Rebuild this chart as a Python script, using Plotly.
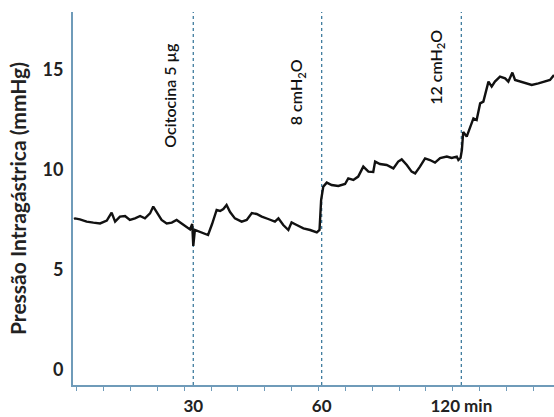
import plotly.graph_objects as go

# Recording time (arbitrary time units along the trace) and intragastric pressure (mmHg)
tempo = [
    -1.0, -0.6, 1.2, 3.7, 6.2, 8.7, 11.2, 13.0, 14.3, 16.1, 18.0, 19.8, 21.7, 23.6, 25.4,
    27.3, 28.5, 29.8, 31.6, 33.5, 35.4, 37.2, 39.1, 41.0, 42.2, 43.0, 43.4, 44.0, 45.9,
    47.8, 48.9, 50.4, 52.1, 53.4, 54.6, 55.8, 57.1, 58.9, 61.4, 63.3, 65.2, 67.0, 68.9,
    71.3, 73.8, 75.1, 76.9, 78.8, 80.0, 81.9, 84.4, 86.9, 89.4, 90.4, 91.0, 91.8, 93.1,
    94.9, 97.4, 99.9, 101.1, 103.0, 104.8, 106.7, 108.6, 110.4, 111.1, 112.9, 115.4,
    117.9, 119.7, 121.0, 122.9, 124.7, 126.0, 127.8, 129.7, 131.5, 133.4, 135.3, 137.8,
    139.6, 141.5, 142.1, 142.9, 143.4, 143.9, 145.2, 146.4, 147.7, 148.9, 150.2, 151.4,
    152.3, 153.3, 154.5, 155.7, 157.6, 159.5, 160.7, 162.2, 163.2, 165.0, 166.9, 169.4,
    171.9, 174.3, 176.2, 177.7,
]
pressao = [
    7.55, 7.58, 7.53, 7.42, 7.37, 7.33, 7.47, 7.87, 7.42, 7.67, 7.70, 7.50, 7.58, 7.70, 7.58,
    7.83, 8.17, 7.87, 7.50, 7.33, 7.37, 7.50, 7.33, 7.13, 7.03, 7.30, 6.20, 7.00, 6.90,
    6.80, 6.75, 7.30, 8.00, 7.95, 8.05, 8.25, 7.90, 7.58, 7.42, 7.50, 7.85, 7.80, 7.67,
    7.55, 7.42, 7.58, 7.25, 7.00, 7.38, 7.25, 7.08, 7.00, 6.88, 7.00, 8.50, 9.17, 9.37,
    9.25, 9.20, 9.30, 9.58, 9.50, 9.67, 10.17, 9.92, 9.90, 10.42, 10.30, 10.25,
    10.08, 10.42, 10.53, 10.25, 9.92, 9.83, 10.17, 10.58, 10.50, 10.37, 10.60, 10.67,
    10.60, 10.67, 10.50, 10.60, 11.00, 11.90, 11.67, 12.08, 12.58, 12.50, 13.33, 13.42,
    13.92, 14.42, 14.17, 14.42, 14.67, 14.58, 14.42, 14.87, 14.50, 14.42, 14.33, 14.25,
    14.33, 14.42, 14.50, 14.75,
]

# Interventions: position on the time axis, axis label and rotated annotation
eventos_t = [43.4, 91.2, 143.2]
eventos_rotulo = ["30", "60", "120 min"]
eventos_texto = ["Ocitocina 5 µg", "8 cmH<sub>2</sub>O", "12 cmH<sub>2</sub>O"]
eventos_y_texto = [13.75, 13.9, 15.15]

y_ticks = [0, 5, 10, 15]

AXIS_COLOR = "#6f9bb9"
EVENT_COLOR = "#3f7c9e"
FONT = "Lato"

fig = go.Figure()
fig.add_trace(go.Scatter(
    x=tempo, y=pressao, mode="lines",
    line=dict(color="#111111", width=2.4),
    hoverinfo="skip", showlegend=False,
))

for t, txt, yt in zip(eventos_t, eventos_texto, eventos_y_texto):
    fig.add_shape(
        type="line", xref="x", yref="paper", x0=t, x1=t, y0=0, y1=1,
        line=dict(color=EVENT_COLOR, width=1.3, dash="dot"), layer="below",
    )
    fig.add_annotation(
        x=t, y=yt, xref="x", yref="y", text=txt, textangle=-90,
        showarrow=False, xanchor="right", yanchor="middle", xshift=-13,
        font=dict(family=FONT, size=16, color="#111111", weight=600),
    )

fig.update_layout(
    width=554, height=417,
    margin=dict(l=73, r=0, t=12, b=32),
    paper_bgcolor="white", plot_bgcolor="white",
    font=dict(family=FONT, color="#222222"),
    xaxis=dict(
        range=[-1.38, 177.7], showgrid=False, zeroline=False,
        showline=True, linecolor=AXIS_COLOR, linewidth=2,
        tickmode="array", tickvals=eventos_t, ticktext=eventos_rotulo,
        ticks="outside", ticklen=5, tickcolor="rgba(0,0,0,0)",
        tickfont=dict(family=FONT, size=17, color="#222222", weight="bold"),
        minor=dict(tickmode="linear", tick0=0, dtick=10, ticks="outside",
                   ticklen=4, tickcolor=AXIS_COLOR, tickwidth=1),
    ),
    yaxis=dict(
        range=[-0.75, 17.9], showgrid=False, zeroline=False,
        showline=True, linecolor=AXIS_COLOR, linewidth=2,
        tickmode="array", tickvals=y_ticks,
        ticks="outside", ticklen=4, tickcolor="rgba(0,0,0,0)",
        tickfont=dict(family=FONT, size=18, color="#222222", weight="bold"),
        title=dict(text="Pressão Intragástrica (mmHg)", standoff=10,
                   font=dict(family=FONT, size=21, color="#222222", weight="bold")),
    ),
)

fig.write_html("out.html")
